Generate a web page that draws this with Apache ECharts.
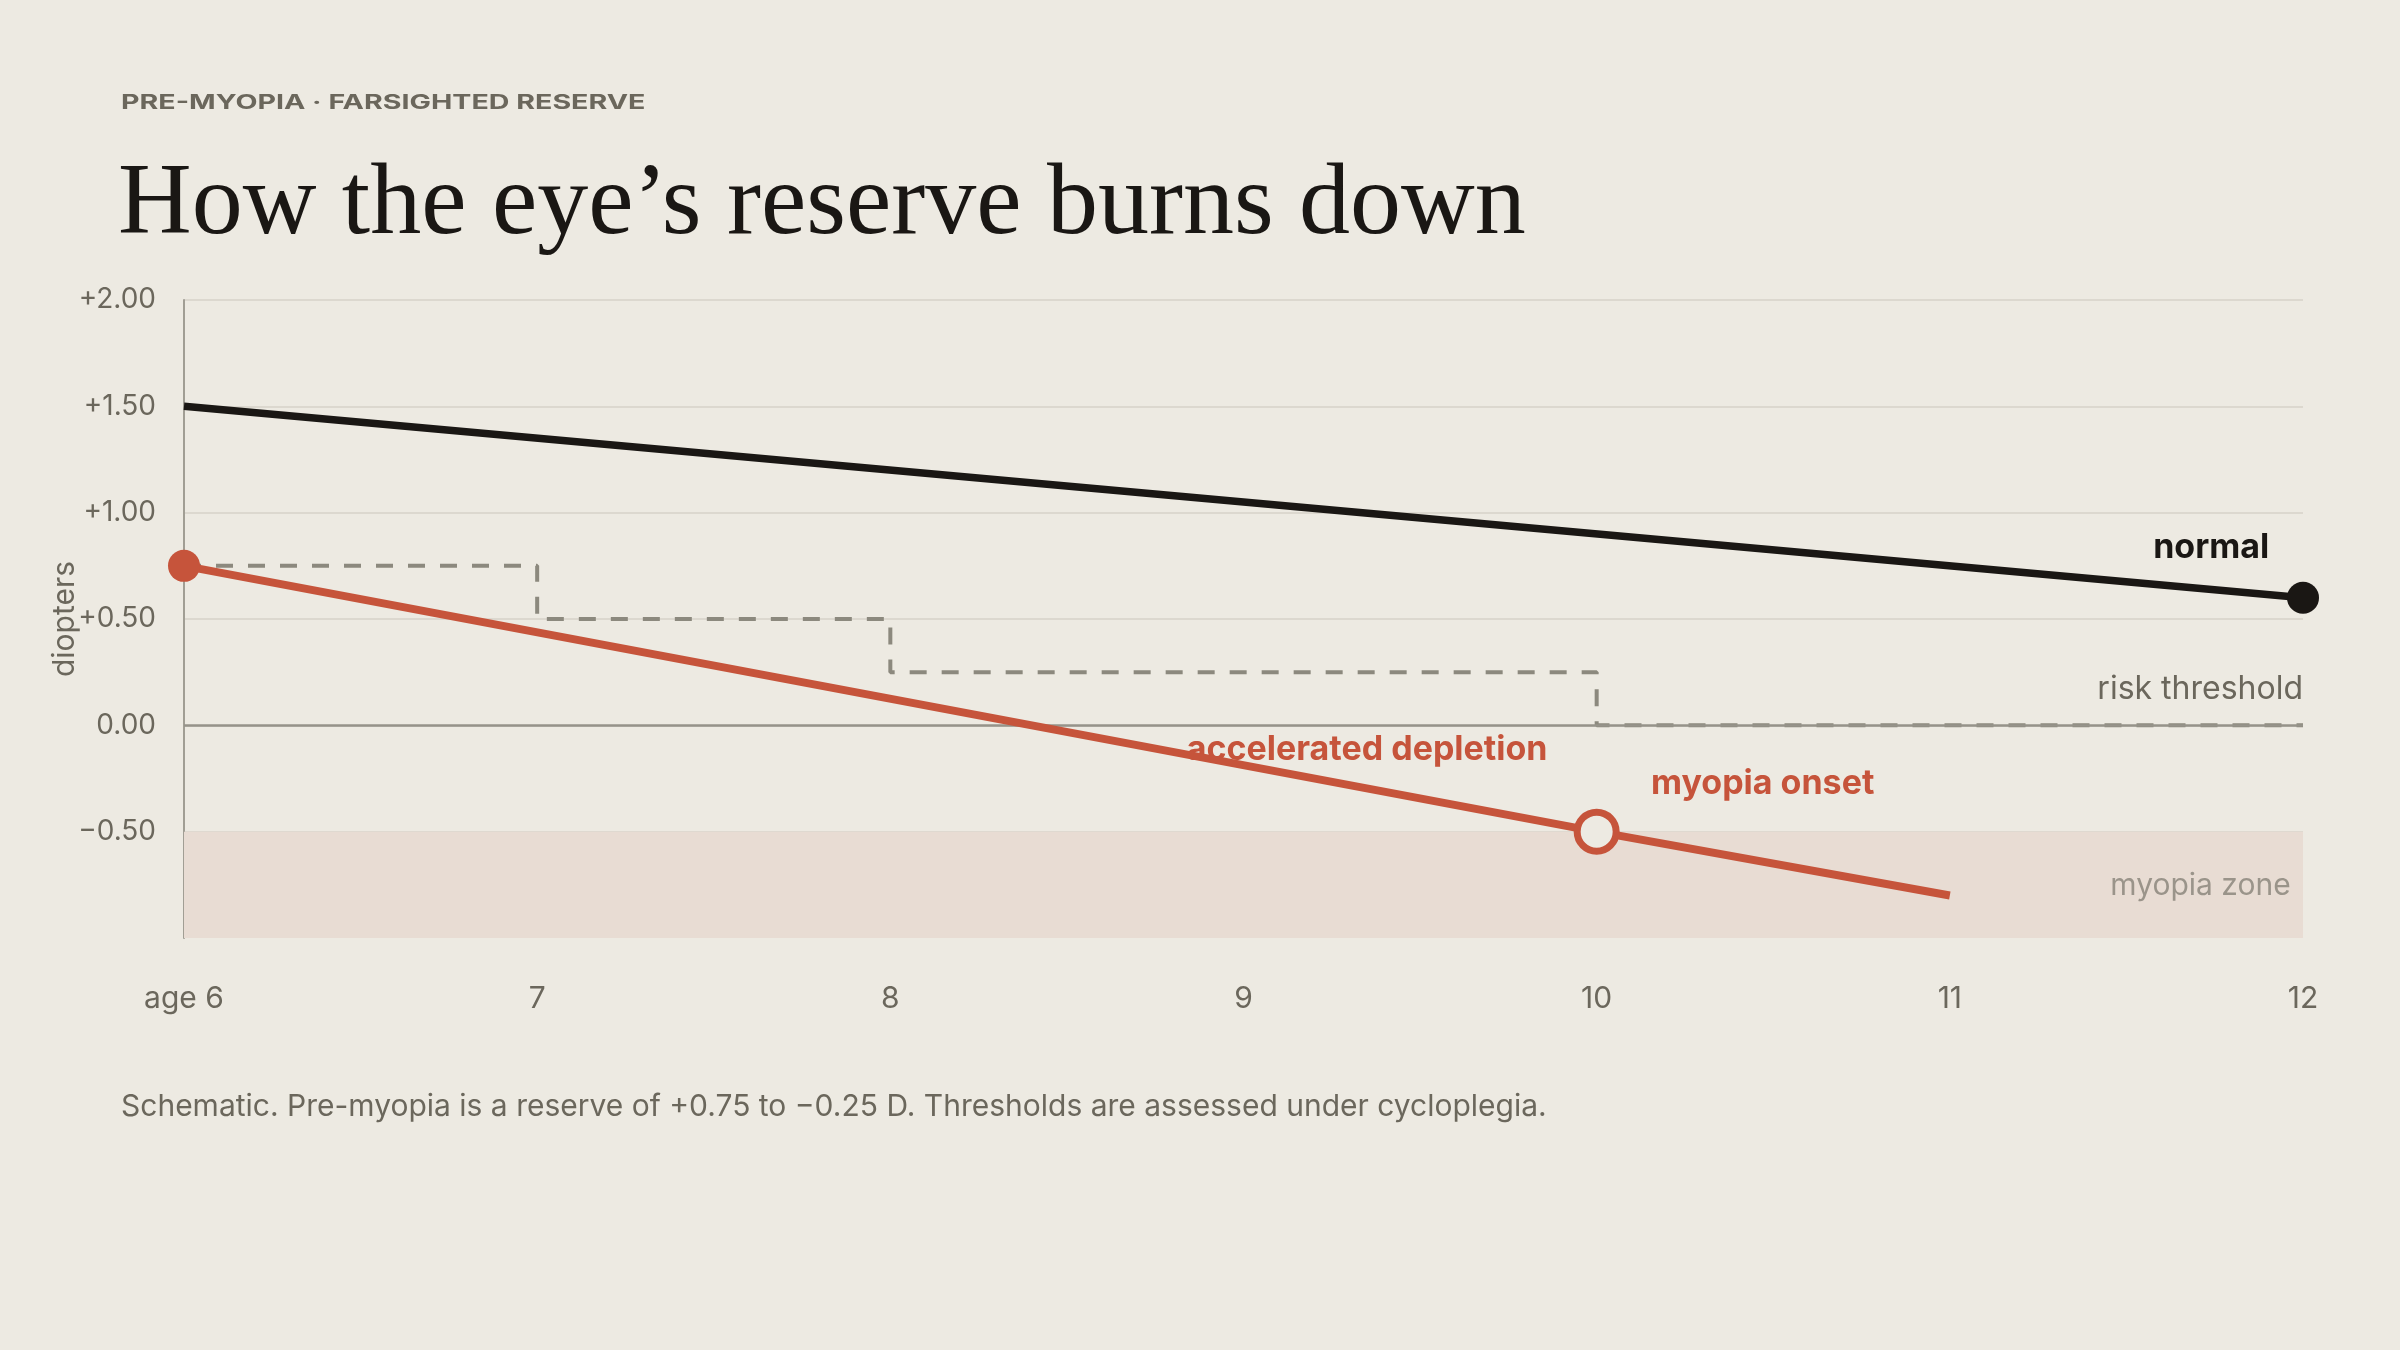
<!DOCTYPE html>
<html>
<head>
<meta charset="utf-8">
<script src="https://cdn.jsdelivr.net/npm/echarts@6/dist/echarts.min.js"></script>
<style>
  html, body { margin: 0; padding: 0; background: #edeae2; }
  #chart { width: 2400px; height: 1350px; }
</style>
</head>
<body>
<div id="chart"></div>
<script>
// ages on the x axis and their tick labels
var ages = [6, 7, 8, 9, 10, 11, 12];
var xTickLabels = ['age 6', '7', '8', '9', '10', '11', '12'];
// diopter ticks
var yTicks = [-1, -0.5, 0, 0.5, 1, 1.5, 2];
var yTickLabels = ['', '−0.50', '0.00', '+0.50', '+1.00', '+1.50', '+2.00'];

// normal eye
var normalAges = [6, 12];
var normalValues = [1.5, 0.6];
// accelerated depletion
var accelAges = [6, 10, 11];
var accelValues = [0.75, -0.5, -0.8];
// risk threshold steps
var thresholdAges = [6, 7, 8, 10, 12];
var thresholdValues = [0.75, 0.5, 0.25, 0, 0];
// myopia zone band
var zoneRange = [-1, -0.5];

var RED = '#c6543b';
var INK = '#1a1714';
var GREY = '#6b675c';
var BG = '#edeae2';

var mychart = echarts.init(document.getElementById('chart'));

function pairs(xs, ys) {
    return xs.map(function (x, i) { return [x, ys[i]]; });
}

var normalData = pairs(normalAges, normalValues).map(function (p, i) {
    return i === normalAges.length - 1
        ? { value: p, symbol: 'circle', symbolSize: 32, itemStyle: { color: INK } }
        : { value: p, symbol: 'none' };
});

var accelData = pairs(accelAges, accelValues).map(function (p, i) {
    if (i === 0) return { value: p, symbol: 'circle', symbolSize: 32, itemStyle: { color: RED } };
    if (i === 1) return { value: p, symbol: 'circle', symbolSize: 39, itemStyle: { color: BG, borderColor: RED, borderWidth: 7 } };
    return { value: p, symbol: 'none' };
});

function note(text, coord, color, weight, size, align) {
    return {
        coord: coord,
        symbol: 'circle',
        symbolSize: 1,
        itemStyle: { color: 'rgba(0,0,0,0)' },
        label: {
            show: true,
            position: 'inside',
            formatter: text,
            color: color,
            fontFamily: 'Inter',
            fontSize: size,
            fontWeight: weight,
            align: align || 'center',
            verticalAlign: 'middle'
        }
    };
}

var option = {
    backgroundColor: BG,
    animation: false,
    textStyle: { fontFamily: 'Inter' },
    graphic: [
        {
            type: 'text', left: 121, top: 93, scaleX: 1.43,
            style: { text: 'PRE-MYOPIA · FARSIGHTED RESERVE', fill: GREY, font: 'bold 20px Inter' }
        },
        {
            type: 'text', left: 118, top: 155,
            style: { text: 'How the eye’s reserve burns down', fill: INK, font: '102px "Liberation Serif"' }
        },
        {
            type: 'text', left: 121, top: 1092,
            style: { text: 'Schematic. Pre-myopia is a reserve of +0.75 to −0.25 D. Thresholds are assessed under cycloplegia.', fill: GREY, font: '30px Inter' }
        }
    ],
    grid: {
        left: 184,
        right: 97,
        top: 300,
        bottom: 412
    },
    xAxis: {
        type: 'value',
        min: 6,
        max: 12,
        interval: 1,
        axisLine: { show: false },
        axisTick: { show: false },
        splitLine: { show: false },
        axisLabel: {
            margin: 46,
            color: GREY,
            fontSize: 30,
            formatter: function (v) { return xTickLabels[ages.indexOf(v)]; }
        }
    },
    yAxis: {
        type: 'value',
        min: -1,
        max: 2,
        interval: 0.5,
        name: 'diopters',
        nameLocation: 'middle',
        nameGap: 104,
        nameMoveOverlap: false,
        nameTextStyle: { color: GREY, fontSize: 30 },
        axisLine: { show: true, lineStyle: { color: '#a19e94', width: 2 } },
        axisTick: { show: false },
        splitLine: {
            show: true,
            lineStyle: {
                color: ['rgba(0,0,0,0)', '#dcd8cf', '#dcd8cf', '#dcd8cf', '#dcd8cf', '#dcd8cf', '#dcd8cf'],
                width: 2
            }
        },
        axisLabel: {
            margin: 28,
            color: GREY,
            fontSize: 28,
            formatter: function (v) { return yTickLabels[yTicks.indexOf(v)]; }
        }
    },
    series: [
        {
            name: 'risk threshold',
            type: 'line',
            step: 'end',
            z: 2,
            symbol: 'none',
            data: pairs(thresholdAges, thresholdValues),
            lineStyle: { color: '#8c897e', width: 4, type: [17, 15] },
            markArea: {
                silent: true,
                itemStyle: { color: '#e8dcd3' },
                data: [[{ yAxis: zoneRange[0] }, { yAxis: zoneRange[1] }]]
            },
            markLine: {
                silent: true,
                symbol: 'none',
                label: { show: false },
                lineStyle: { color: '#96938a', width: 2.5, type: 'solid' },
                data: [{ yAxis: 0 }]
            },
            markPoint: {
                silent: true,
                data: [
                    note('risk threshold', [12, 0.17], GREY, 'normal', 32, 'right'),
                    note('myopia zone', [11.965, -0.755], '#9a948a', 'normal', 30, 'right')
                ]
            }
        },
        {
            name: 'normal',
            type: 'line',
            z: 4,
            data: normalData,
            lineStyle: { color: INK, width: 7.5 },
            itemStyle: { color: INK },
            markPoint: {
                silent: true,
                data: [note('normal', [11.74, 0.835], INK, 'bold', 34)]
            }
        },
        {
            name: 'accelerated depletion',
            type: 'line',
            z: 5,
            data: accelData,
            lineStyle: { color: RED, width: 8 },
            itemStyle: { color: RED },
            markPoint: {
                silent: true,
                data: [
                    note('accelerated depletion', [9.35, -0.115], RED, 'bold', 34),
                    note('myopia onset', [10.47, -0.275], RED, 'bold', 34)
                ]
            }
        }
    ]
};
mychart.setOption(option);
</script>
</body>
</html>
